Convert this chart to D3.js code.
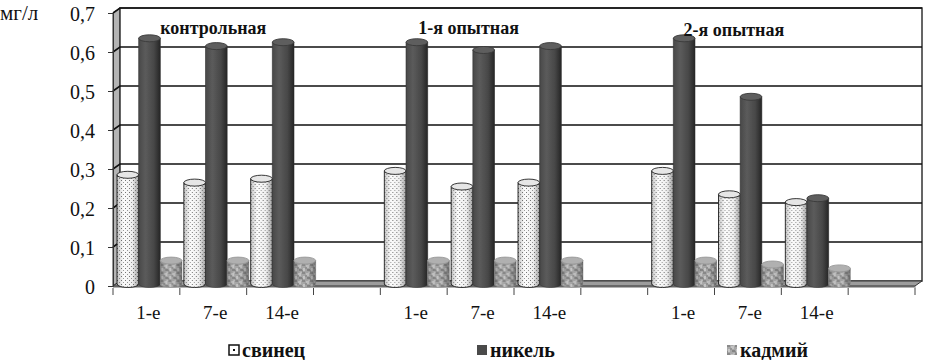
<!DOCTYPE html>
<html>
<head>
<meta charset="utf-8">
<script src="https://cdn.jsdelivr.net/npm/d3@7"></script>
<style>
  body { margin: 0; background: #fff; }
</style>
</head>
<body>
<svg width="928" height="360"></svg>
<script>
// data
const categories = ["1-е", "7-е", "14-е"];
const groups = ["контрольная", "1-я опытная", "2-я опытная"];
const series = ["свинец", "никель", "кадмий"];
const lead    = [0.28, 0.26, 0.27, 0.29, 0.25, 0.26, 0.29, 0.23, 0.21];
const nickel  = [0.63, 0.61, 0.62, 0.62, 0.60, 0.61, 0.63, 0.48, 0.22];
const cadmium = [0.06, 0.06, 0.06, 0.06, 0.06, 0.06, 0.06, 0.05, 0.04];
const yTicks = [0, 0.1, 0.2, 0.3, 0.4, 0.5, 0.6, 0.7];
const yUnit = "мг/л";

const FONT = "font-family:'Liberation Serif','Times New Roman',serif";
const svg = d3.select("svg");
const DX = 7, DY = -5;   // 3d depth of the walls

// 12 slots: 3 categories + 1 blank per group
const slots = [];
groups.forEach((g, gi) => {
  categories.forEach((c, ci) => slots.push({ id: gi * 4 + ci, label: c }));
  slots.push({ id: gi * 4 + 3, label: "" });
});

const x = d3.scaleBand().domain(slots.map(d => d.id)).range([113, 915]).padding(0);
const xs = d3.scaleBand().domain(series).range([4, 69]).padding(0);
const y = d3.scaleLinear().domain([0, 0.7]).range([286, 13]);

const rows = [];
lead.forEach((v, i) => {
  const slot = Math.floor(i / 3) * 4 + (i % 3);
  rows.push({ slot, s: "свинец", v: lead[i] });
  rows.push({ slot, s: "никель", v: nickel[i] });
  rows.push({ slot, s: "кадмий", v: cadmium[i] });
});

// patterns and gradients
const defs = svg.append("defs");
const dots = defs.append("pattern").attr("id", "dots").attr("width", 4).attr("height", 4)
  .attr("patternUnits", "userSpaceOnUse");
dots.append("rect").attr("width", 4).attr("height", 4).attr("fill", "#fbfbfb");
dots.append("rect").attr("x", 0).attr("y", 0).attr("width", 1).attr("height", 1).attr("fill", "#777");
dots.append("rect").attr("x", 2).attr("y", 2).attr("width", 1).attr("height", 1).attr("fill", "#999");

const mott = defs.append("pattern").attr("id", "mott").attr("width", 8).attr("height", 8)
  .attr("patternUnits", "userSpaceOnUse");
mott.append("rect").attr("width", 8).attr("height", 8).attr("fill", "#a8a8a8");
[[0, 0, 3, 2, "#8a8a8a"], [4, 1, 3, 3, "#c4c4c4"], [1, 4, 2, 3, "#c8c8c8"], [5, 5, 3, 2, "#858585"],
 [3, 3, 2, 2, "#969696"], [0, 6, 1, 2, "#909090"], [6, 0, 2, 1, "#bababa"]].forEach(r =>
  mott.append("rect").attr("x", r[0]).attr("y", r[1]).attr("width", r[2]).attr("height", r[3]).attr("fill", r[4]));

function grad(id, stops) {
  const g = defs.append("linearGradient").attr("id", id).attr("x1", 0).attr("x2", 1).attr("y1", 0).attr("y2", 0);
  stops.forEach(s => g.append("stop").attr("offset", s[0]).attr("stop-color", s[1]).attr("stop-opacity", s[2]));
}
grad("shade", [[0, "#000", 0.22], [0.3, "#000", 0], [0.7, "#000", 0.05], [1, "#000", 0.35]]);
grad("nick", [[0, "#5c5c5c", 1], [0.35, "#5a5a5a", 1], [0.8, "#474747", 1], [1, "#3a3a3a", 1]]);

// walls
const yTop = y(0.7), yBot = y(0);
const xL = x.range()[0], xR = x.range()[1];
svg.append("polygon")
  .attr("points", [[xL, yTop], [xL + DX, yTop + DY], [xL + DX, yBot + DY], [xL, yBot]].join(" "))
  .attr("fill", "#b4b4b4").attr("stroke", "#333").attr("stroke-width", 1);
svg.append("rect")
  .attr("x", xL + DX).attr("y", yTop + DY).attr("width", xR - xL).attr("height", yBot - yTop)
  .attr("fill", "#fff").attr("stroke", "#333").attr("stroke-width", 1.5);

// gridlines on back and side wall
const grid = svg.append("g");
yTicks.filter(t => t > 0).forEach(t => {
  grid.append("path")
    .attr("d", `M${xL},${y(t)}L${xL + DX},${y(t) + DY}L${xR + DX},${y(t) + DY}`)
    .attr("fill", "none").attr("stroke", "#111").attr("stroke-width", 1.6);
});

// floor
svg.append("polygon")
  .attr("points", [[xL, yBot], [xL + DX, yBot + DY], [xR + DX, yBot + DY], [xR, yBot]].join(" "))
  .attr("fill", "#9c9c9c").attr("stroke", "#333").attr("stroke-width", 1);
svg.append("polygon")
  .attr("points", [[xL, yBot], [xR, yBot], [xR + 1, yBot + 1.5], [xL, yBot + 1.5]].join(" "))
  .attr("fill", "#666");

// cylinders
const fills = { "свинец": "url(#dots)", "никель": "url(#nick)", "кадмий": "url(#mott)" };
const tops = { "свинец": "#e6e6e6", "никель": "#5e5e5e", "кадмий": "#b0b0b0" };
const strokes = { "свинец": "#222", "никель": "#3a3a3a", "кадмий": "#999" };
const RY = 3.5, LIFT = -2;

const cyl = svg.append("g").selectAll("g").data(rows).join("g")
  .attr("transform", d => `translate(${x(d.slot) + xs(d.s)},0)`);
const w = xs.bandwidth();
const body = d => {
  const t = y(d.v) + LIFT, b = yBot + LIFT;
  return `M0,${t}L0,${b}A${w / 2},${RY} 0 0 0 ${w},${b}L${w},${t}Z`;
};
cyl.append("path").attr("d", body).attr("fill", d => fills[d.s])
  .attr("stroke", d => strokes[d.s]).attr("stroke-width", d => d.s === "свинец" ? 0.9 : 0.6);
cyl.append("path").attr("d", body).attr("fill", "url(#shade)").attr("stroke", "none");
cyl.append("ellipse")
  .attr("cx", w / 2).attr("cy", d => y(d.v) + LIFT).attr("rx", w / 2).attr("ry", RY)
  .attr("fill", d => tops[d.s]).attr("stroke", d => strokes[d.s]).attr("stroke-width", 0.9);

// y axis
const yAxis = svg.append("g").attr("transform", `translate(${xL},0)`)
  .call(d3.axisLeft(y).tickValues(yTicks).tickSize(5).tickPadding(13)
    .tickFormat(d => d === 0 ? "0" : d.toFixed(1).replace(".", ",")));
yAxis.select(".domain").attr("stroke", "#333").attr("stroke-width", 1);
yAxis.selectAll(".tick line").attr("stroke", "#333");
yAxis.selectAll(".tick text").attr("style", FONT).attr("font-size", 20)
  .attr("fill", "#111").attr("dy", "0.38em");

svg.append("text").attr("x", 0).attr("y", 20).attr("style", FONT).attr("font-size", 21)
  .attr("fill", "#111").text(yUnit);

// x axis: boundary ticks + category labels
const bounds = x.domain().map(d => x(d)).concat([xR]);
svg.append("g").selectAll("line").data(bounds).join("line")
  .attr("x1", d => d).attr("x2", d => d).attr("y1", yBot + 2).attr("y2", yBot + 9)
  .attr("stroke", "#444").attr("stroke-width", 1);
svg.append("g").selectAll("text").data(slots.filter(d => d.label)).join("text")
  .attr("x", d => x(d.id) + x.bandwidth() / 2 + 2).attr("y", 319)
  .attr("text-anchor", "middle").attr("style", FONT).attr("font-size", 19).attr("fill", "#111")
  .text(d => d.label);

// group titles
const titleShift = [0, -12, -14];
svg.append("g").selectAll("text").data(groups).join("text")
  .attr("x", (d, i) => x(i * 4 + 1) + x.bandwidth() / 2 + titleShift[i])
  .attr("y", (d, i) => i === 2 ? 36 : 34)
  .attr("text-anchor", "middle").attr("style", FONT).attr("font-size", 18)
  .attr("font-weight", "bold").attr("fill", "#111")
  .text(d => d);

// legend
const legX = [229, 477, 727];
const leg = svg.append("g").selectAll("g").data(series).join("g")
  .attr("transform", (d, i) => `translate(${legX[i]},345)`);
leg.append("rect").attr("width", 10).attr("height", 10)
  .attr("fill", d => d === "свинец" ? "#fff" : d === "никель" ? "#4a4a4a" : "url(#mott)")
  .attr("stroke", d => d === "свинец" ? "#111" : "none").attr("stroke-width", 1.5);
leg.filter(d => d === "свинец").append("rect").attr("x", 4).attr("y", 4)
  .attr("width", 2).attr("height", 2).attr("fill", "#111");
leg.append("text").attr("x", 13).attr("y", 12).attr("style", FONT).attr("font-size", 20)
  .attr("font-weight", "bold").attr("fill", "#111").text(d => d);
</script>
</body>
</html>
